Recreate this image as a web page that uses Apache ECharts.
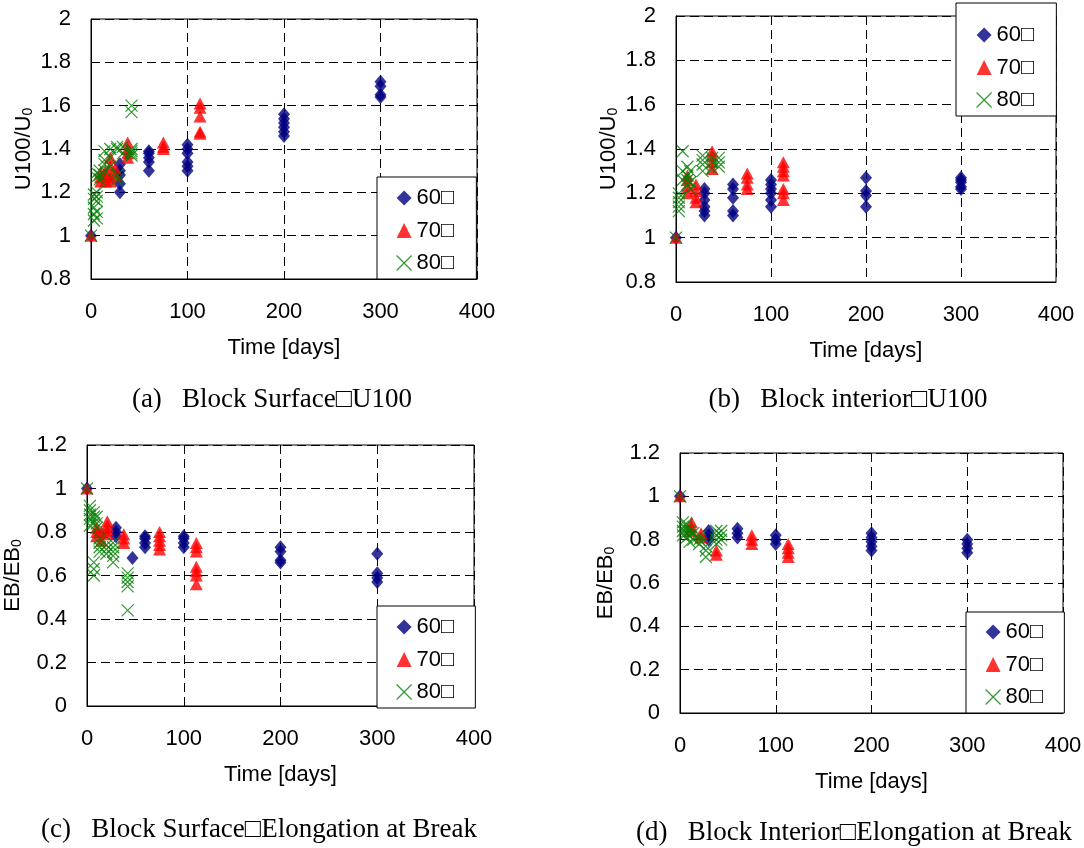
<!DOCTYPE html>
<html>
<head>
<meta charset="utf-8">
<title>Aging of blocks</title>
<script src="https://cdn.jsdelivr.net/npm/echarts@6/dist/echarts.min.js"></script>
<style>
  html, body { margin: 0; padding: 0; background: #fff; }
  #chart { width: 1084px; height: 848px; }
</style>
</head>
<body>
<div id="chart"></div>
<script>
// series names (the boxes are in the original)
var names = ['60□', '70□', '80□'];
var captions = [
  '(a)   Block Surface□U100',
  '(b)   Block interior□U100',
  '(c)   Block Surface□Elongation at Break',
  '(d)   Block Interior□Elongation at Break'
];
var xTicks = [0, 400, 100];   // min, max, step (days)
var yTicksU = [0.8, 2, 0.2];
var yTicksEB = [0, 1.2, 0.2];

// (a) block surface, U100/U0  -- [days, ratio]
var a60 = [[0,1.00],[30,1.20],[30,1.24],[30,1.28],[30,1.30],[30,1.33],[60,1.30],[60,1.34],[60,1.36],[60,1.38],[60,1.39],
  [100,1.30],[100,1.32],[100,1.34],[100,1.38],[100,1.40],[100,1.42],[200,1.46],[200,1.48],[200,1.50],[200,1.52],[200,1.54],[200,1.56],
  [300,1.64],[300,1.65],[300,1.69],[300,1.71]];
var a70 = [[0,1.00],[10,1.25],[10,1.27],[10,1.29],[15,1.25],[15,1.28],[15,1.30],[20,1.25],[20,1.27],[20,1.32],[20,1.36],[25,1.28],[25,1.31],
  [38,1.36],[38,1.38],[38,1.40],[38,1.43],[75,1.40],[75,1.41],[75,1.43],[113,1.47],[113,1.48],[113,1.55],[113,1.59],[113,1.61]];
var a80 = [[0,1.00],[3,1.07],[3,1.10],[3,1.13],[3,1.17],[3,1.19],[6,1.08],[6,1.11],[6,1.16],[6,1.18],[6,1.20],[6,1.27],[6,1.29],
  [9,1.26],[9,1.28],[9,1.30],[14,1.30],[14,1.33],[14,1.35],[14,1.39],[20,1.32],[20,1.36],[20,1.40],[27,1.26],[27,1.28],[27,1.40],[27,1.41],
  [33,1.38],[33,1.41],[42,1.37],[42,1.38],[42,1.39],[42,1.40],[42,1.57],[42,1.60]];

// (b) block interior, U100/U0
var b60 = [[0,1.00],[30,1.10],[30,1.12],[30,1.14],[30,1.17],[30,1.20],[30,1.22],[60,1.10],[60,1.12],[60,1.18],[60,1.22],[60,1.24],
  [100,1.14],[100,1.17],[100,1.20],[100,1.22],[100,1.24],[100,1.26],[200,1.14],[200,1.19],[200,1.21],[200,1.27],
  [300,1.22],[300,1.23],[300,1.25],[300,1.26],[300,1.27]];
var b70 = [[0,1.00],[12,1.20],[12,1.23],[12,1.26],[12,1.28],[21,1.16],[21,1.18],[21,1.21],[21,1.24],[38,1.31],[38,1.34],[38,1.37],[38,1.39],
  [75,1.22],[75,1.24],[75,1.27],[75,1.29],[113,1.17],[113,1.20],[113,1.22],[113,1.28],[113,1.30],[113,1.32],[113,1.34]];
var b80 = [[0,1.00],[3,1.12],[3,1.14],[3,1.16],[3,1.18],[3,1.20],[7,1.26],[7,1.30],[7,1.39],[12,1.24],[12,1.26],[12,1.28],[12,1.32],
  [15,1.22],[15,1.25],[15,1.30],[28,1.30],[28,1.33],[28,1.35],[28,1.37],[38,1.31],[38,1.34],[38,1.36],[45,1.32],[45,1.34],[45,1.36]];

// (c) block surface, EB/EB0
var c60 = [[0,1.00],[30,0.78],[30,0.80],[30,0.82],[47,0.68],[60,0.73],[60,0.75],[60,0.77],[60,0.78],[100,0.73],[100,0.75],[100,0.77],[100,0.78],
  [200,0.66],[200,0.67],[200,0.71],[200,0.73],[300,0.57],[300,0.59],[300,0.61],[300,0.70]];
var c70 = [[0,1.00],[10,0.78],[10,0.80],[10,0.82],[15,0.76],[15,0.80],[21,0.79],[21,0.81],[21,0.83],[21,0.85],[38,0.75],[38,0.77],[38,0.79],
  [75,0.72],[75,0.74],[75,0.76],[75,0.78],[75,0.80],[113,0.56],[113,0.60],[113,0.62],[113,0.64],[113,0.71],[113,0.73],[113,0.75]];
var c80 = [[0,1.00],[3,0.83],[3,0.86],[3,0.88],[3,0.90],[3,0.92],[7,0.84],[7,0.87],[7,0.89],[7,0.60],[7,0.63],[7,0.66],[10,0.82],[10,0.84],[10,0.87],
  [13,0.71],[13,0.73],[13,0.75],[13,0.77],[20,0.70],[20,0.72],[20,0.74],[27,0.66],[27,0.69],[27,0.71],[27,0.73],[27,0.75],
  [42,0.44],[42,0.55],[42,0.57],[42,0.59],[42,0.61]];

// (d) block interior, EB/EB0
var d60 = [[0,1.00],[30,0.80],[30,0.82],[30,0.84],[60,0.81],[60,0.83],[60,0.85],[100,0.78],[100,0.80],[100,0.82],
  [200,0.75],[200,0.77],[200,0.79],[200,0.81],[200,0.83],[300,0.74],[300,0.76],[300,0.78],[300,0.80]];
var d70 = [[0,1.00],[12,0.84],[12,0.86],[12,0.88],[22,0.81],[22,0.83],[38,0.73],[38,0.75],[75,0.78],[75,0.80],[75,0.82],
  [113,0.72],[113,0.74],[113,0.76],[113,0.78]];
var d80 = [[0,1.00],[3,0.82],[3,0.84],[3,0.86],[3,0.88],[7,0.81],[7,0.83],[7,0.85],[7,0.87],[10,0.79],[10,0.82],[10,0.84],
  [14,0.80],[14,0.83],[20,0.78],[20,0.80],[20,0.82],[27,0.72],[27,0.75],[27,0.77],[38,0.78],[38,0.80],[38,0.82],[38,0.84],
  [43,0.80],[43,0.82],[43,0.84]];

var SANS = "'Liberation Sans', Arial, 'Noto Sans CJK JP', sans-serif";
var SERIF = "'Liberation Serif', 'Times New Roman', 'Noto Sans CJK JP', serif";
var FS = 22;

var panels = [
  { grid: { left: 91, top: 19, width: 386, height: 260 }, y: yTicksU, yname: '{m|U100/U}{s|0}', gap: 56,
    sets: [a60, a70, a80], leg: { left: 377, top: 177, pad: [10, 22, 5, 19] }, cap: { x: 272, top: 386 } },
  { grid: { left: 676, top: 16, width: 380, height: 266 }, y: yTicksU, yname: '{m|U100/U}{s|0}', gap: 56,
    sets: [b60, b70, b80], leg: { left: 956, top: 3, pad: [21, 22, 5, 20] }, cap: { x: 848, top: 386 } },
  { grid: { left: 87, top: 445, width: 387, height: 261 }, y: yTicksEB, yname: '{m|EB/EB}{s|0}', gap: 63,
    sets: [c60, c70, c80], leg: { left: 377, top: 606, pad: [10, 21, 5, 19] }, cap: { x: 259, top: 816 } },
  { grid: { left: 680, top: 453, width: 383, height: 260 }, y: yTicksEB, yname: '{m|EB/EB}{s|0}', gap: 63,
    sets: [d60, d70, d80], leg: { left: 966, top: 612, pad: [9, 21, 5, 19] }, cap: { x: 854, top: 819 } }
];

var symbols = ['diamond', 'triangle', 'path://M0,0L10,10M10,0L0,10'];
var symSizes = [[12, 14], [13, 12], [12, 12]];
var markStyles = [
  { color: '#000080' },
  { color: '#FF0000' },
  { color: 'rgba(0,0,0,0)', borderColor: '#008000', borderWidth: 1.2 }
];

var dash = [9, 5];
var grids = [], xAxes = [], yAxes = [], legends = [], titles = [], series = [];

panels.forEach(function (p, i) {
  grids.push({
    left: p.grid.left, top: p.grid.top, width: p.grid.width, height: p.grid.height,
    show: true, borderColor: '#000', borderWidth: 1, backgroundColor: 'transparent',
    containLabel: false, outerBoundsMode: 'none'
  });
  xAxes.push({
    type: 'value', gridIndex: i, min: xTicks[0], max: xTicks[1], interval: xTicks[2],
    axisLine: { show: true, onZero: false, lineStyle: { color: '#000', width: 1 } },
    axisTick: { show: false },
    axisLabel: { fontSize: FS, color: '#000', fontFamily: SANS, margin: 22 },
    splitLine: { show: true, lineStyle: { color: '#000', type: dash, width: 1 } },
    name: 'Time [days]', nameLocation: 'middle', nameGap: 58,
    nameTextStyle: { fontSize: FS, color: '#000', fontFamily: SANS }
  });
  yAxes.push({
    type: 'value', gridIndex: i, min: p.y[0], max: p.y[1], interval: p.y[2],
    axisLine: { show: true, onZero: false, lineStyle: { color: '#000', width: 1 } },
    axisTick: { show: false },
    axisLabel: { fontSize: FS, color: '#000', fontFamily: SANS, margin: 20 },
    splitLine: { show: true, lineStyle: { color: '#000', type: dash, width: 1 } },
    name: p.yname, nameLocation: 'middle', nameRotate: 90, nameGap: p.gap,
    nameTextStyle: {
      color: '#000', fontFamily: SANS,
      rich: {
        m: { fontSize: FS, verticalAlign: 'bottom', fontFamily: SANS, color: '#000' },
        s: { fontSize: 14, verticalAlign: 'bottom', fontFamily: SANS, color: '#000' }
      }
    }
  });
  legends.push({
    orient: 'vertical', left: p.leg.left, top: p.leg.top, padding: p.leg.pad,
    itemGap: 10.5, itemWidth: 15, itemHeight: 15, selectedMode: false,
    backgroundColor: '#fff', borderColor: '#000', borderWidth: 1,
    textStyle: { fontSize: FS, color: '#000', fontFamily: SANS },
    data: [{ name: names[0] }, { name: names[1] }, { name: names[2], itemStyle: { borderWidth: 1.2 } }]
  });
  titles.push({
    text: captions[i], left: p.cap.x, top: p.cap.top, textAlign: 'center', padding: 0,
    textStyle: { fontFamily: SERIF, fontSize: 27, fontWeight: 'normal', color: '#000' }
  });
  p.sets.forEach(function (d, j) {
    series.push({
      type: 'scatter', name: names[j], xAxisIndex: i, yAxisIndex: i,
      data: d, symbol: symbols[j], symbolSize: symSizes[j],
      itemStyle: markStyles[j], z: 2 + j
    });
  });
});

var chart = echarts.init(document.getElementById('chart'), null, { renderer: 'canvas' });
chart.setOption({
  animation: false,
  backgroundColor: '#fff',
  title: titles,
  grid: grids,
  xAxis: xAxes,
  yAxis: yAxes,
  legend: legends,
  series: series
});
window.onresize = function () { chart.resize(); };
</script>
</body>
</html>
